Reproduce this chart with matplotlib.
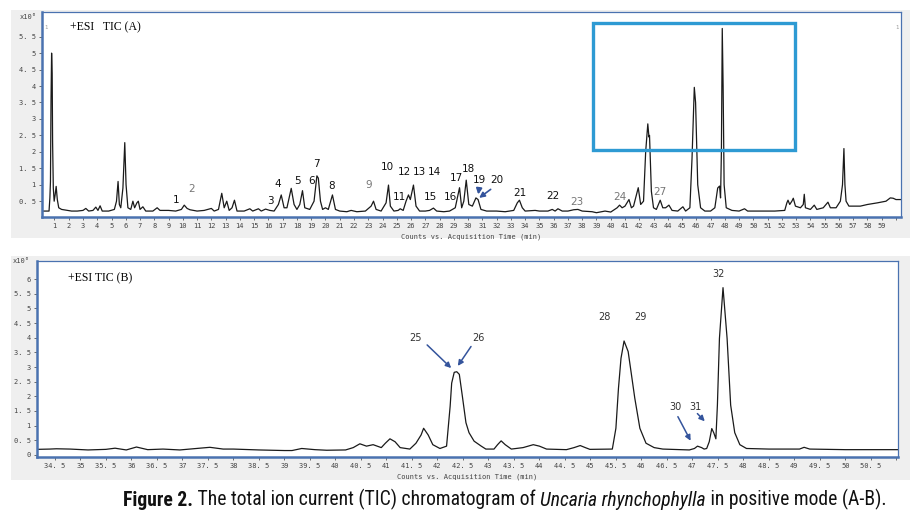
import matplotlib
matplotlib.use("Agg")
import matplotlib.pyplot as plt
from matplotlib.patches import Rectangle
from matplotlib import font_manager

# ---- chromatogram A (full run), minutes vs counts x10^6 ----
time_a = [0.13, 0.62, 0.68, 0.72, 0.76, 0.80, 0.84, 0.87, 0.92, 0.98, 1.05, 1.12, 1.20, 1.30,
          1.50, 1.90, 2.20, 2.60, 3.00, 3.20, 3.40, 3.70, 3.90, 4.05, 4.20, 4.35, 4.80, 5.20,
          5.35, 5.46, 5.55, 5.65, 5.80, 5.93, 6.02, 6.15, 6.35, 6.50, 6.62, 6.78, 6.88, 7.00,
          7.20, 7.40, 7.90, 8.20, 8.40, 9.00, 9.50, 9.90, 10.10, 10.30, 10.50, 11.00, 11.50,
          12.00, 12.20, 12.50, 12.73, 12.90, 13.08, 13.25, 13.45, 13.62, 13.80, 14.30, 14.70,
          14.90, 15.30, 15.50, 15.80, 16.10, 16.40, 16.70, 16.90, 17.10, 17.30, 17.60, 17.80,
          18.00, 18.20, 18.39, 18.55, 18.90, 19.20, 19.40, 19.50, 19.65, 19.80, 20.00, 20.20,
          20.49, 20.70, 21.00, 21.50, 21.80, 22.20, 22.80, 23.20, 23.37, 23.55, 23.90, 24.25,
          24.42, 24.55, 24.80, 25.10, 25.24, 25.45, 25.65, 25.82, 25.95, 26.17, 26.35, 26.60,
          27.00, 27.30, 27.57, 27.80, 28.30, 28.70, 29.10, 29.40, 29.55, 29.70, 29.87, 30.05,
          30.30, 30.55, 30.70, 30.90, 31.30, 32.00, 32.60, 33.20, 33.45, 33.60, 33.80, 34.00,
          34.70, 35.00, 35.60, 35.90, 36.10, 36.30, 36.60, 37.00, 37.40, 37.70, 38.00, 38.70,
          39.00, 39.60, 40.00, 40.45, 40.62, 40.80, 41.00, 41.28, 41.45, 41.60, 41.93, 42.10,
          42.30, 42.45, 42.60, 42.68, 42.72, 42.85, 43.00, 43.20, 43.47, 43.65, 43.85, 44.08,
          44.30, 44.70, 45.06, 45.25, 45.55, 45.70, 45.86, 45.95, 46.10, 46.30, 46.60, 47.00,
          47.30, 47.50, 47.63, 47.70, 47.76, 47.82, 47.88, 47.95, 48.10, 48.50, 49.00, 49.38,
          49.60, 50.50, 51.50, 52.20, 52.35, 52.43, 52.55, 52.70, 52.80, 52.95, 53.30, 53.50,
          53.57, 53.65, 54.00, 54.27, 54.45, 54.90, 55.23, 55.40, 55.80, 56.10, 56.25, 56.35,
          56.42, 56.50, 56.70, 57.50, 58.00, 58.70, 59.30, 59.60, 59.80, 60.00, 60.35]
tic_a = [0.20, 0.20, 0.60, 1.10, 3.60, 5.00, 4.40, 2.30, 0.90, 0.50, 0.70, 0.95, 0.55, 0.30,
         0.25, 0.22, 0.20, 0.20, 0.22, 0.28, 0.20, 0.22, 0.32, 0.22, 0.36, 0.20, 0.20, 0.25,
         0.50, 1.10, 0.40, 0.30, 0.90, 2.28, 1.00, 0.30, 0.25, 0.50, 0.30, 0.45, 0.50, 0.25,
         0.33, 0.20, 0.20, 0.30, 0.22, 0.22, 0.20, 0.25, 0.38, 0.28, 0.24, 0.20, 0.22,
         0.28, 0.20, 0.25, 0.74, 0.30, 0.50, 0.22, 0.30, 0.53, 0.20, 0.20, 0.27,
         0.20, 0.27, 0.20, 0.26, 0.22, 0.20, 0.40, 0.69, 0.30, 0.30, 0.89, 0.40,
         0.25, 0.40, 0.82, 0.30, 0.25, 0.50, 1.27, 1.20, 0.50, 0.25, 0.30, 0.25,
         0.69, 0.25, 0.20, 0.18, 0.22, 0.18, 0.20, 0.35, 0.50, 0.25, 0.20, 0.45,
         0.99, 0.35, 0.20, 0.22, 0.27, 0.22, 0.50, 0.69, 0.55, 0.99, 0.35, 0.20,
         0.20, 0.22, 0.29, 0.20, 0.18, 0.20, 0.30, 0.91, 0.30, 0.50, 1.14, 0.40,
         0.35, 0.60, 0.55, 0.25, 0.20, 0.20, 0.18, 0.22, 0.45, 0.53, 0.30, 0.20,
         0.22, 0.20, 0.20, 0.25, 0.20, 0.27, 0.20, 0.20, 0.24, 0.25, 0.20, 0.18,
         0.15, 0.20, 0.17, 0.30, 0.38, 0.30, 0.35, 0.55, 0.30, 0.35, 0.91, 0.40,
         0.50, 2.00, 2.85, 2.45, 2.50, 0.80, 0.30, 0.25, 0.53, 0.30, 0.30, 0.38,
         0.22, 0.20, 0.33, 0.20, 0.30, 1.80, 3.96, 3.50, 1.00, 0.30, 0.20, 0.20,
         0.30, 0.90, 0.96, 0.60, 2.00, 5.75, 4.00, 1.00, 0.30, 0.22, 0.20, 0.27,
         0.20, 0.20, 0.20, 0.22, 0.45, 0.53, 0.40, 0.50, 0.59, 0.35, 0.30, 0.40,
         0.71, 0.30, 0.25, 0.38, 0.25, 0.30, 0.47, 0.30, 0.30, 0.50, 1.00, 2.10,
         1.00, 0.50, 0.35, 0.35, 0.40, 0.45, 0.50, 0.60, 0.59, 0.55, 0.55]

# ---- chromatogram B (zoom 34-51 min) ----
time_b = [34.15, 34.40, 34.53, 34.80, 35.15, 35.50, 35.68, 35.90, 36.10, 36.32, 36.62, 36.95,
          37.34, 37.54, 37.80, 38.00, 38.50, 39.00, 39.15, 39.34, 39.60, 39.83, 40.20, 40.35,
          40.48, 40.61, 40.74, 40.90, 40.98, 41.07, 41.17, 41.27, 41.46, 41.58, 41.68, 41.73,
          41.82, 41.91, 42.05, 42.18, 42.25, 42.28, 42.33, 42.38, 42.43, 42.49, 42.56, 42.62,
          42.72, 42.86, 42.95, 43.11, 43.18, 43.25, 43.33, 43.45, 43.68, 43.88, 44.00, 44.14,
          44.53, 44.68, 44.80, 44.90, 44.99, 45.43, 45.50, 45.55, 45.60, 45.66, 45.74, 45.80,
          45.87, 45.97, 46.09, 46.25, 46.42, 46.94, 47.04, 47.10, 47.18, 47.23, 47.28, 47.33,
          47.38, 47.42, 47.46, 47.49, 47.53, 47.60, 47.68, 47.75, 47.83, 47.93, 48.06, 48.50,
          49.10, 49.19, 49.30, 50.00, 51.03]
tic_b = [0.19, 0.20, 0.21, 0.20, 0.17, 0.19, 0.23, 0.17, 0.27, 0.18, 0.20, 0.17,
         0.23, 0.26, 0.20, 0.20, 0.17, 0.15, 0.15, 0.22, 0.18, 0.16, 0.17, 0.25,
         0.38, 0.30, 0.35, 0.25, 0.40, 0.55, 0.45, 0.25, 0.20, 0.40, 0.68, 0.91,
         0.68, 0.35, 0.22, 0.30, 1.66, 2.45, 2.82, 2.84, 2.75, 2.00, 1.10, 0.76,
         0.47, 0.30, 0.20, 0.20, 0.35, 0.48, 0.35, 0.20, 0.25, 0.35, 0.30, 0.20,
         0.18, 0.25, 0.32, 0.25, 0.19, 0.20, 0.91, 2.27, 3.30, 3.89, 3.53, 2.80,
         1.94, 0.91, 0.40, 0.25, 0.20, 0.17, 0.22, 0.30, 0.25, 0.20, 0.22, 0.45,
         0.90, 0.75, 0.55, 1.70, 3.98, 5.71, 3.98, 1.70, 0.76, 0.35, 0.22, 0.20,
         0.20, 0.26, 0.20, 0.18, 0.18]

labels_a = ["1", "2", "3", "4", "5", "6", "7", "8", "9", "10", "11", "12", "13", "14",
            "15", "16", "17", "18", "19", "20", "21", "22", "23", "24", "27"]
labels_b = ["25", "26", "28", "29", "30", "31", "32"]

# label placement (data coords) and colour
pos_a = [(9.51, 0.55), (10.58, 0.86), (16.12, 0.5), (16.66, 1.02), (18.04, 1.12),
         (19.05, 1.12), (19.4, 1.62), (20.45, 0.97), (23.0, 1.0), (24.31, 1.55),
         (25.17, 0.64), (25.54, 1.4), (26.6, 1.4), (27.62, 1.4), (27.39, 0.64),
         (28.74, 0.64), (29.16, 1.2), (30.03, 1.47), (30.8, 1.14), (32.04, 1.14),
         (33.6, 0.76), (35.95, 0.66), (37.65, 0.47), (40.67, 0.64), (43.47, 0.79)]
grey_a = {"2", "9", "23", "24", "27"}
pos_b = [(41.58, 4.0), (42.81, 4.0), (45.27, 4.72), (45.98, 4.72), (46.66, 1.65),
         (47.06, 1.65), (47.51, 6.18)]

BLUE = "#4a72b0"
ARROW = "#34549c"

fig = plt.figure(figsize=(9.16, 5.24), dpi=100)

# grey panel backgrounds
for rect in ([0.012, 0.5458, 0.9814, 0.4351], [0.012, 0.084, 0.9814, 0.4275]):
    fig.patches.append(Rectangle(rect[:2], rect[2], rect[3], transform=fig.transFigure,
                                 facecolor="#efefef", edgecolor="none", zorder=-5))

axA = fig.add_axes([0.0459, 0.5859, 0.9377, 0.3912])
axB = fig.add_axes([0.0404, 0.1279, 0.9399, 0.374])

tick_font = dict(family="DejaVu Sans Mono", size=5, color="#444444")


def style(ax):
    for s in ["left", "bottom"]:
        ax.spines[s].set_color(BLUE)
        ax.spines[s].set_linewidth(1.8)
    for s in ["top", "right"]:
        ax.spines[s].set_color(BLUE)
        ax.spines[s].set_linewidth(0.9)
    ax.tick_params(length=2.5, width=0.6, color="#555555", pad=2)
    for lab in ax.get_xticklabels() + ax.get_yticklabels():
        lab.set_fontfamily(tick_font["family"])
        lab.set_fontsize(tick_font["size"])
        lab.set_color(tick_font["color"])


def num(v):
    return f"{v:g}".replace(".", ". ")


# ---- panel A ----
axA.plot(time_a, tic_a, color="#1a1a1a", lw=0.9)
axA.set_xlim(0.13, 60.35)
axA.set_ylim(0.02, 6.25)
xt = list(range(1, 61))
axA.set_xticks(xt)
axA.set_xticklabels([str(v) if v < 60 else "" for v in xt])
yt = [0.5 * k for k in range(1, 12)]
axA.set_yticks(yt)
axA.set_yticklabels([num(v) for v in yt])
style(axA)
axA.set_xlabel("Counts vs. Acquisition Time (min)", fontfamily="DejaVu Sans Mono",
               fontsize=5, color="#444444", labelpad=3)
axA.text(-0.026, 0.975, "x10\u2076", transform=axA.transAxes, fontsize=5,
         fontfamily="DejaVu Sans Mono", color="#444444", ha="left", va="center")
axA.text(0.033, 0.925, "+ESI   TIC (A)", transform=axA.transAxes, fontsize=8.5,
         fontfamily="Liberation Serif", va="center")
axA.text(0.003, 0.925, "1", transform=axA.transAxes, fontsize=4, color="#999999", va="center")
axA.text(0.9975, 0.925, "1", transform=axA.transAxes, fontsize=4, color="#999999",
         va="center", ha="right")
for lab, (t, v) in zip(labels_a, pos_a):
    axA.text(t, v, lab, fontsize=7.5, ha="center", va="center",
             color="#777777" if lab in grey_a else "#111111")
axA.annotate("", xy=(30.62, 0.55), xytext=(31.74, 0.91),
             arrowprops=dict(arrowstyle="-|>", color=ARROW, lw=1.2, mutation_scale=8))
axA.annotate("", xy=(30.69, 0.62), xytext=(30.8, 0.98),
             arrowprops=dict(arrowstyle="-|>", color=ARROW, lw=1.4, mutation_scale=8))
axA.add_patch(Rectangle((38.77, 2.05), 52.94 - 38.77, 5.91 - 2.05, fill=False,
                        edgecolor="#2e9ad3", lw=2.4, zorder=5))

# ---- panel B ----
axB.plot(time_b, tic_b, color="#1a1a1a", lw=0.9)
axB.set_xlim(34.15, 51.03)
axB.set_ylim(-0.07, 6.62)
xt = [34.5 + 0.5 * k for k in range(34)]
axB.set_xticks(xt)
axB.set_xticklabels([num(v) if v < 51 else "" for v in xt])
yt = [0.5 * k for k in range(13)]
axB.set_yticks(yt)
axB.set_yticklabels([num(v) for v in yt])
style(axB)
axB.set_xlabel("Counts vs. Acquisition Time (min)", fontfamily="DejaVu Sans Mono",
               fontsize=5, color="#444444", labelpad=3)
axB.text(-0.028, 1.0, "x10\u2076", transform=axB.transAxes, fontsize=5,
         fontfamily="DejaVu Sans Mono", color="#444444", ha="left", va="center")
axB.text(0.036, 0.91, "+ESI TIC (B)", transform=axB.transAxes, fontsize=8.5,
         fontfamily="Liberation Serif", va="center")
for lab, (t, v) in zip(labels_b, pos_b):
    axB.text(t, v, lab, fontsize=7, ha="center", va="center", color="#333333")
arrows_b = [((42.31, 2.9), (41.76, 3.82)), ((42.37, 2.96), (42.69, 3.78)),
            ((46.99, 0.4), (46.69, 1.39)), ((47.28, 1.08), (47.06, 1.48))]
for tip, tail in arrows_b:
    axB.annotate("", xy=tip, xytext=tail,
                 arrowprops=dict(arrowstyle="-|>", color=ARROW, lw=1.1, mutation_scale=8))

# ---- caption ----
cap_family = "DejaVu Sans"
for cand in ["Liberation Sans Narrow", "Roboto Condensed", "Roboto"]:
    try:
        font_manager.findfont(cand, fallback_to_default=False)
        cap_family = cand
        break
    except ValueError:
        pass
pieces = [("Figure 2.", dict(weight="bold")),
          (" The total ion current (TIC) chromatogram of ", dict()),
          ("Uncaria rhynchophylla", dict(style="italic")),
          (" in positive mode (A-B).", dict())]
fig.canvas.draw()
r = fig.canvas.get_renderer()
texts = []
for s, kw in pieces:
    texts.append(fig.text(0, 0.035, s, fontsize=14, fontfamily=cap_family,
                          color="#111111", va="baseline", **kw))
widths = [t.get_window_extent(r).width for t in texts]
scale = 766.0 / sum(widths)
for t in texts:
    t.set_fontsize(14 * scale)
widths = [t.get_window_extent(r).width / fig.bbox.width for t in texts]
x = 0.551 - sum(widths) / 2
for t, w in zip(texts, widths):
    t.set_x(x)
    x += w

fig.savefig("out.png", dpi=100)
